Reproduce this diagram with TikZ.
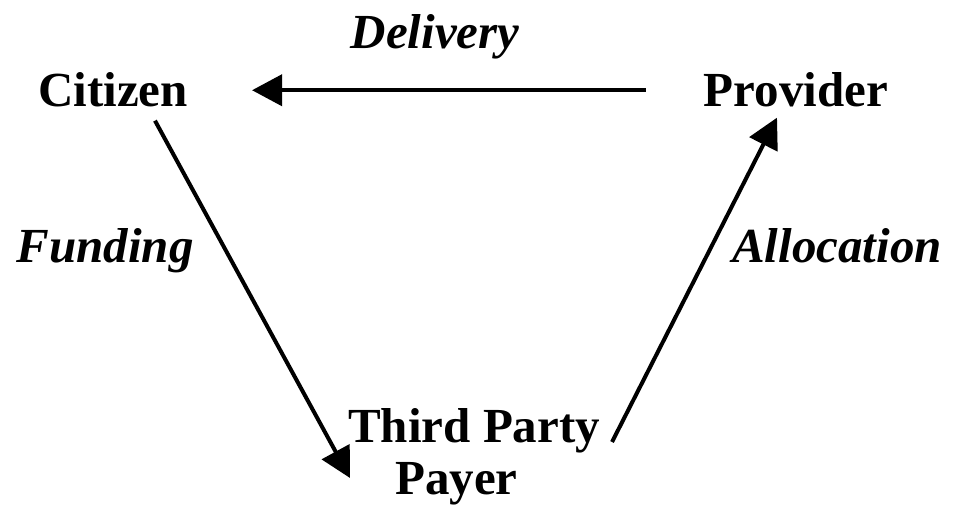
\documentclass[tikz,border=0pt]{standalone}
\usepackage{fontspec}
\setmainfont{Liberation Serif}
\usetikzlibrary{arrows.meta}
\begin{document}
\begin{tikzpicture}[x=1pt,y=1pt,
  lbl/.style={inner sep=0pt,font=\fontsize{49}{52}\selectfont\bfseries},
  elbl/.style={inner sep=0pt,font=\fontsize{49}{52}\selectfont\bfseries\itshape},
  arr/.style={line width=4pt,-{Triangle[length=30pt,width=31pt]}}]
\useasboundingbox[fill=white] (0,0) rectangle (953,506);
\node[lbl,anchor=base] (cit) at (113,399) {Citizen};
\node[lbl,anchor=base] (prov) at (796,399) {Provider};
\node[lbl,anchor=north west,align=left] (tpp) at (348,97.4) {Third Party\\\hspace*{47pt}Payer};
\node[elbl,anchor=base] (del) at (435,457) {Delivery};
\node[elbl,anchor=base] (fund) at (105,243) {Funding};
\node[elbl,anchor=base] (alloc) at (837,243) {Allocation};
\draw[arr] (prov.west) -- (cit.east) [shorten <=58pt, shorten >=64pt];
\draw[arr] ([shift={(42pt,-13pt)}]cit.south) -- ([shift={(2pt,-69.4pt)}]tpp.north west);
\draw[arr] ([shift={(264pt,-33.4pt)}]tpp.north west) -- ([shift={(-19pt,-10pt)}]prov.south);
\end{tikzpicture}
\end{document}
